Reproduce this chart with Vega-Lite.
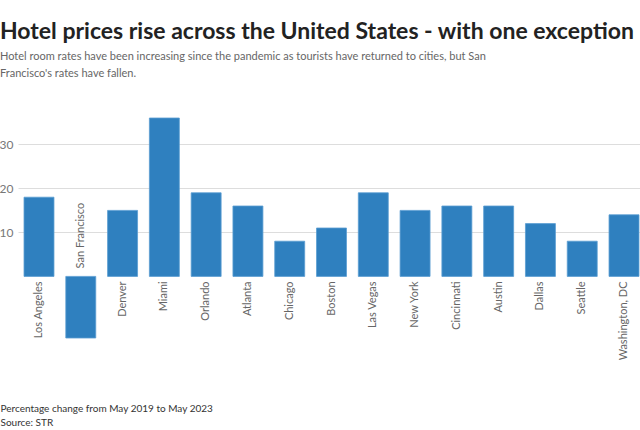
{
  "$schema": "https://vega.github.io/schema/vega-lite/v6.json",
  "autosize": {"type": "none"},
  "width": 622,
  "height": 220,
  "padding": {"left": 18, "top": 118, "right": 0, "bottom": 92},
  "background": "white",
  "config": {"view": {"stroke": null}, "font": "Lato"},
  "title": {
    "text": "Hotel prices rise across the United States - with one exception",
    "subtitle": ["Hotel room rates have been increasing since the pandemic as tourists have returned to cities, but San", "Francisco's rates have fallen."],
    "anchor": "start",
    "frame": "group",
    "dx": -18,
    "offset": 39,
    "font": "Lato",
    "fontSize": 23,
    "fontWeight": "bold",
    "color": "#222222",
    "subtitleFont": "Lato",
    "subtitleFontSize": 11,
    "subtitleColor": "#666666",
    "subtitleLineHeight": 17,
    "subtitlePadding": 7
  },
  "data": {
    "values": [
      {"city": "Los Angeles", "change": 18},
      {"city": "San Francisco", "change": -14},
      {"city": "Denver", "change": 15},
      {"city": "Miami", "change": 36},
      {"city": "Orlando", "change": 19},
      {"city": "Atlanta", "change": 16},
      {"city": "Chicago", "change": 8},
      {"city": "Boston", "change": 11},
      {"city": "Las Vegas", "change": 19},
      {"city": "New York", "change": 15},
      {"city": "Cincinnati", "change": 16},
      {"city": "Austin", "change": 16},
      {"city": "Dallas", "change": 12},
      {"city": "Seattle", "change": 8},
      {"city": "Washington, DC", "change": 14}
    ]
  },
  "encoding": {
    "x": {
      "field": "city",
      "type": "nominal",
      "sort": null,
      "scale": {"paddingInner": 0.283, "paddingOuter": 0.084, "align": 0.857},
      "axis": {
        "labels": false,
        "ticks": false,
        "domain": false,
        "title": ["Percentage change from May 2019 to May 2023", "Source: STR"],
        "titleAnchor": "start",
        "titleAlign": "left",
        "titleBaseline": "alphabetic",
        "titleX": -18,
        "titleY": 73,
        "titleFont": "Lato",
        "titleFontSize": 10,
        "titleFontWeight": "normal",
        "titleColor": "#333333",
        "titleLineHeight": 14
      }
    }
  },
  "layer": [
    {
      "mark": {"type": "bar", "color": "#2f80bf", "stroke": "#5b9dd2", "strokeWidth": 0.8},
      "encoding": {
        "y": {
          "field": "change",
          "type": "quantitative",
          "scale": {"domain": [-14, 36], "nice": false},
          "axis": {
            "values": [10, 20, 30],
            "title": null,
            "domain": false,
            "ticks": false,
            "grid": true,
            "gridColor": "#dddddd",
            "gridWidth": 1,
            "labelPadding": 5,
            "labelFont": "Lato",
            "labelFontSize": 12,
            "labelColor": "#777777"
          }
        }
      }
    },
    {
      "mark": {"type": "rule", "color": "#333333", "strokeWidth": 1.2},
      "encoding": {"y": {"datum": 0}}
    },
    {
      "transform": [{"filter": "datum.change >= 0"}],
      "mark": {"type": "text", "angle": 270, "align": "right", "baseline": "middle", "dx": -5, "font": "Lato", "fontSize": 11, "color": "#666666"},
      "encoding": {"y": {"datum": 0}, "text": {"field": "city"}}
    },
    {
      "transform": [{"filter": "datum.change < 0"}],
      "mark": {"type": "text", "angle": 270, "align": "left", "baseline": "middle", "dx": 8, "font": "Lato", "fontSize": 11, "color": "#666666"},
      "encoding": {"y": {"datum": 0}, "text": {"field": "city"}}
    }
  ]
}
